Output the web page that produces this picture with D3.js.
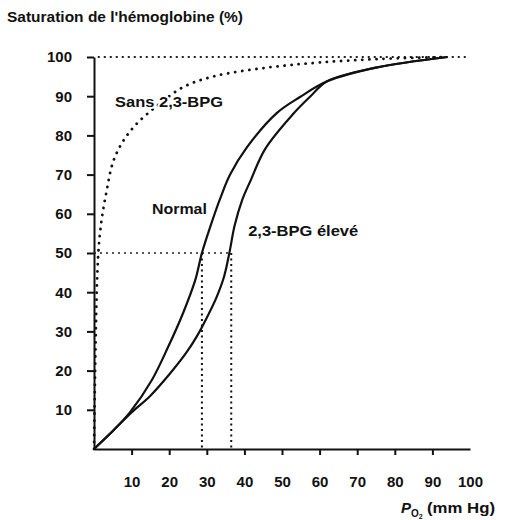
<!DOCTYPE html>
<html>
<head>
<meta charset="utf-8">
<script src="https://cdn.jsdelivr.net/npm/d3@7"></script>
<style>
  body { margin: 0; background: #fff; }
  svg { display: block; font-family: "Liberation Sans", Arial, sans-serif; }
  .axis path, .axis line { stroke: #111; stroke-width: 2; }
  .axis text { font-size: 15px; font-weight: bold; fill: #111; }
</style>
</head>
<body>
<div class="chart"></div>
<script>
// tick values
const xTicks = [10, 20, 30, 40, 50, 60, 70, 80, 90, 100]
const yTicks = [10, 20, 30, 40, 50, 60, 70, 80, 90, 100]

// courbe normale (PO2 mm Hg, saturation %)
const normalX = [0, 5, 9.6, 15.4, 19.7, 23.7, 26.9, 28.7, 31.2, 33.6, 36.2, 40.7, 48.6, 54.8, 62, 75, 94]
const normalY = [0, 4.6, 9.4, 17.6, 26, 34.7, 43, 50, 57.5, 64, 70, 77, 85.7, 89.8, 93.8, 97.3, 100]

// 2,3-BPG eleve
const eleveX = [0, 5, 10, 15, 20, 24.5, 27.5, 30, 32.5, 34.6, 36, 37.4, 39.4, 41.7, 45.5, 53, 57.4, 62, 75, 94]
const eleveY = [0, 4.6, 9.3, 13.6, 19, 24.5, 29, 33.5, 38.5, 44, 50, 57, 63.5, 68.6, 76.5, 85.5, 89.8, 93.8, 97.3, 100]

// sans 2,3-BPG
const sansX = [0, 0.3, 0.6, 0.9, 1.3, 2.1, 3.4, 5, 7.4, 10.9, 16.7, 23.7, 31.6, 46, 60, 76, 94]
const sansY = [0, 20, 35, 45, 52, 59, 66, 73, 78, 82.5, 87.5, 92.3, 95, 97.3, 98.6, 99.5, 100]

// P50 values
const p50Normal = 28.7
const p50Eleve = 36.5

const margin = ({top: 57, right: 37, bottom: 71, left: 94})
const width = 507 - margin.left - margin.right,
      height = 520 - margin.top - margin.bottom;

let svg = d3.select(".chart").append("svg")
    .attr("width", 507)
    .attr("height", 520)
  .append("g")
    .attr("transform", "translate(" + margin.left + "," + margin.top + ")");

const xScale = d3.scaleLinear().domain([0, 100]).range([0, width])
const yScale = d3.scaleLinear().domain([0, 100]).range([height, 0])

let xAxis = d3.axisBottom(xScale)
    .tickValues(xTicks)
    .tickSize(6)
    .tickSizeOuter(0)
    .tickPadding(21)

let yAxis = d3.axisLeft(yScale)
    .tickValues(yTicks)
    .tickSize(7)
    .tickSizeOuter(0)
    .tickPadding(15)

let gx = svg.append("g")
    .attr("class", "axis x-axis")
    .attr("transform", `translate(0, ${height})`)
    .call(xAxis)
// no tick mark at 100 on the x axis
gx.selectAll(".tick").filter(d => d == 100).select("line").remove()

svg.append("g")
    .attr("class", "axis y-axis")
    .call(yAxis)

// reference dotted lines
svg.append("line")
    .attr("x1", xScale(1)).attr("x2", xScale(99))
    .attr("y1", yScale(100)).attr("y2", yScale(100))
    .attr("stroke", "#222").attr("stroke-width", 2)
    .attr("stroke-dasharray", "2 4")

svg.append("line")
    .attr("x1", xScale(0)).attr("x2", xScale(p50Eleve - 0.8))
    .attr("y1", yScale(50)).attr("y2", yScale(50))
    .attr("stroke", "#222").attr("stroke-width", 1.6)
    .attr("stroke-dasharray", "2 4")

;[p50Normal, p50Eleve].forEach(v => {
  svg.append("line")
      .attr("x1", xScale(v)).attr("x2", xScale(v))
      .attr("y1", yScale(50)).attr("y2", yScale(0))
      .attr("stroke", "#111").attr("stroke-width", 2)
      .attr("stroke-dasharray", "2 3.5")
})

const line = d3.line()
    .x(d => xScale(d[0]))
    .y(d => yScale(d[1]))
    .curve(d3.curveCatmullRom.alpha(0.5))

svg.append("path")
    .datum(d3.zip(sansX, sansY))
    .attr("d", line)
    .attr("fill", "none")
    .attr("stroke", "#111")
    .attr("stroke-width", 2.8)
    .attr("stroke-linecap", "round")
    .attr("stroke-dasharray", "0.1 7")

svg.append("path")
    .datum(d3.zip(normalX, normalY))
    .attr("d", line)
    .attr("fill", "none")
    .attr("stroke", "#111")
    .attr("stroke-width", 2.2)

svg.append("path")
    .datum(d3.zip(eleveX, eleveY))
    .attr("d", line)
    .attr("fill", "none")
    .attr("stroke", "#111")
    .attr("stroke-width", 2.2)

// curve labels (white halo hides the dots under the text)
const labels = [
  {text: "Sans 2,3-BPG", x: 5.6, y: 87.3, len: 108},
  {text: "Normal", x: 15.4, y: 60, len: 55},
  {text: "2,3-BPG élevé", x: 41, y: 54.3, len: 110}
]
svg.selectAll(".curve-label")
    .data(labels)
  .enter().append("text")
    .attr("class", "curve-label")
    .attr("x", d => xScale(d.x))
    .attr("y", d => yScale(d.y))
    .attr("textLength", d => d.len)
    .attr("lengthAdjust", "spacingAndGlyphs")
    .attr("font-size", 15)
    .attr("font-weight", "bold")
    .attr("fill", "#111")
    .attr("stroke", "#fff")
    .attr("stroke-width", 4)
    .attr("paint-order", "stroke")
    .text(d => d.text)

// axis titles
d3.select("svg").append("text")
    .attr("x", 7)
    .attr("y", 22)
    .attr("textLength", 236)
    .attr("lengthAdjust", "spacingAndGlyphs")
    .attr("font-size", 15)
    .attr("font-weight", "bold")
    .attr("fill", "#111")
    .text("Saturation de l'hémoglobine (%)")

let xt = d3.select("svg").append("text")
    .attr("x", 401)
    .attr("y", 513)
    .attr("font-size", 15)
    .attr("font-weight", "bold")
    .attr("fill", "#111")
xt.append("tspan").attr("font-style", "italic").text("P")
xt.append("tspan").attr("font-size", 10).attr("dy", 4).text("O")
xt.append("tspan").attr("font-size", 7).attr("dy", 2).text("2")
xt.append("tspan").attr("x", 427).attr("dy", -6)
    .attr("textLength", 68).attr("lengthAdjust", "spacingAndGlyphs")
    .text("(mm Hg)")
</script>
</body>
</html>
